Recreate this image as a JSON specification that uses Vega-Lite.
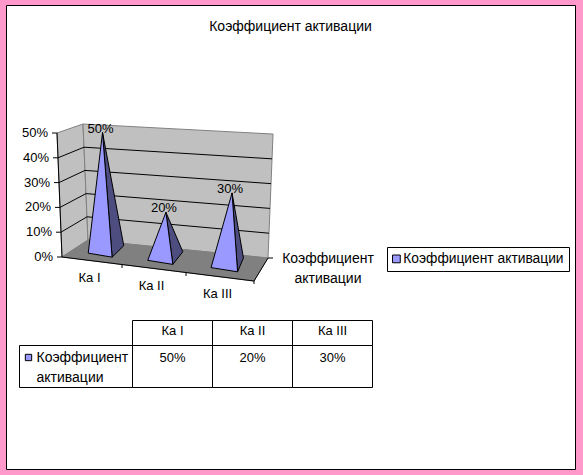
{
"$schema":"https://vega.github.io/schema/vega-lite/v6.json",
"width":569,"height":464,
"autosize":{"type":"none"},
"padding":{"left":6,"top":5,"right":8,"bottom":6},
"background":"#ff99cc",
"config":{"view":{"fill":"white","stroke":"black","strokeWidth":1},"text":{"font":"Liberation Sans","fontSize":13,"color":"black"}},
"title":{"text":"Коэффициент активации","font":"Liberation Sans","fontSize":14,"fontWeight":"normal","color":"black","anchor":"middle","baseline":"middle","offset":-36},
"datasets":{
"values":[{"category":"Ка I","col":0,"pos":0.49,"value":0.5,"series":"Коэффициент активации"},{"category":"Ка II","col":1,"pos":1.47,"value":0.2,"series":"Коэффициент активации"},{"category":"Ка III","col":2,"pos":2.47,"value":0.3,"series":"Коэффициент активации"}],
"levels":[{"level":0},{"level":0.1},{"level":0.2},{"level":0.3},{"level":0.4},{"level":0.5}],
"shell":[
{"part":"left","ord":0,"c":0,"d":0,"p":0},{"part":"left","ord":1,"c":0,"d":1,"p":0},{"part":"left","ord":2,"c":0,"d":1,"p":50},{"part":"left","ord":3,"c":0,"d":0,"p":50},{"part":"left","ord":4,"c":0,"d":0,"p":0},
{"part":"back","ord":0,"c":0,"d":1,"p":0},{"part":"back","ord":1,"c":3,"d":1,"p":0},{"part":"back","ord":2,"c":3,"d":1,"p":50},{"part":"back","ord":3,"c":0,"d":1,"p":50},{"part":"back","ord":4,"c":0,"d":1,"p":0},
{"part":"floor","ord":0,"c":0,"d":0,"p":0},{"part":"floor","ord":1,"c":3,"d":0,"p":0},{"part":"floor","ord":2,"c":3,"d":1,"p":0},{"part":"floor","ord":3,"c":0,"d":1,"p":0},{"part":"floor","ord":4,"c":0,"d":0,"p":0},
{"part":"axis1","ord":0,"c":0,"d":0,"p":50},{"part":"axis1","ord":1,"c":0,"d":0,"p":0},{"part":"axis1","ord":2,"c":3,"d":0,"p":0},{"part":"axis1","ord":3,"c":3,"d":1,"p":0}
],
"ticks":[
{"c":0,"d":0,"p":0,"tx":-5,"ty":0},{"c":0,"d":0,"p":10,"tx":-5,"ty":0},{"c":0,"d":0,"p":20,"tx":-5,"ty":0},{"c":0,"d":0,"p":30,"tx":-5,"ty":0},{"c":0,"d":0,"p":40,"tx":-5,"ty":0},{"c":0,"d":0,"p":50,"tx":-5,"ty":0},
{"c":1,"d":0,"p":0,"tx":0,"ty":3},{"c":2,"d":0,"p":0,"tx":0,"ty":3},{"c":3,"d":0,"p":0,"tx":0,"ty":3},{"c":3,"d":1,"p":0,"tx":5,"ty":0}
]
},
"resolve":{"scale":{"x":"independent","y":"independent","fill":"independent"}},
"layer":[
{"layer":[
{"data":{"name":"shell"},"transform":[{"filter":"datum.part==='left'||datum.part==='back'"},{"calculate":"62+58*datum.c+2*datum.c*datum.c+datum.d*(26+2*datum.c-2*datum.c*datum.c)+datum.p*(-0.1+0.067*datum.c)","as":"sx"},{"calculate":"257+8*datum.c-datum.d*(17+2*datum.c)-datum.p*(2.48-0.16*datum.d+0.053*datum.c)","as":"sy"}],
"mark":{"type":"line","fill":"#c0c0c0","stroke":"#808080","strokeWidth":1},
"encoding":{"x":{"field":"sx","type":"quantitative","axis":null,"scale":{"domain":[6,575],"nice":false,"zero":false}},"y":{"field":"sy","type":"quantitative","axis":null,"scale":{"domain":[469,5],"nice":false,"zero":false}},"order":{"field":"ord"},"detail":{"field":"part"}}},
{"data":{"name":"shell"},"transform":[{"filter":"datum.part==='floor'"},{"calculate":"62+58*datum.c+2*datum.c*datum.c+datum.d*(26+2*datum.c-2*datum.c*datum.c)+datum.p*(-0.1+0.067*datum.c)","as":"sx"},{"calculate":"257+8*datum.c-datum.d*(17+2*datum.c)-datum.p*(2.48-0.16*datum.d+0.053*datum.c)","as":"sy"}],
"mark":{"type":"line","fill":"#808080","stroke":"#808080","strokeWidth":1},
"encoding":{"x":{"field":"sx","type":"quantitative","axis":null},"y":{"field":"sy","type":"quantitative","axis":null},"order":{"field":"ord"}}},
{"data":{"name":"levels"},"transform":[{"filter":"datum.level>0&&datum.level<0.5"},{"calculate":"[0,0,3]","as":"c"},{"calculate":"[0,1,1]","as":"d"},{"calculate":"[0,1,2]","as":"ord"},{"flatten":["c","d","ord"]},{"calculate":"datum.level*100","as":"p"},{"calculate":"62+58*datum.c+2*datum.c*datum.c+datum.d*(26+2*datum.c-2*datum.c*datum.c)+datum.p*(-0.1+0.067*datum.c)","as":"sx"},{"calculate":"257+8*datum.c-datum.d*(17+2*datum.c)-datum.p*(2.48-0.16*datum.d+0.053*datum.c)","as":"sy"}],
"mark":{"type":"line","stroke":"black","strokeWidth":1},
"encoding":{"x":{"field":"sx","type":"quantitative","axis":null},"y":{"field":"sy","type":"quantitative","axis":null},"order":{"field":"ord"},"detail":{"field":"level"}}},
{"data":{"name":"shell"},"transform":[{"filter":"datum.part==='axis1'"},{"calculate":"62+58*datum.c+2*datum.c*datum.c+datum.d*(26+2*datum.c-2*datum.c*datum.c)+datum.p*(-0.1+0.067*datum.c)","as":"sx"},{"calculate":"257+8*datum.c-datum.d*(17+2*datum.c)-datum.p*(2.48-0.16*datum.d+0.053*datum.c)","as":"sy"}],
"mark":{"type":"line","stroke":"black","strokeWidth":1},
"encoding":{"x":{"field":"sx","type":"quantitative","axis":null},"y":{"field":"sy","type":"quantitative","axis":null},"order":{"field":"ord"}}},
{"data":{"name":"ticks"},"transform":[{"calculate":"62+58*datum.c+2*datum.c*datum.c+datum.d*(26+2*datum.c-2*datum.c*datum.c)+datum.p*(-0.1+0.067*datum.c)","as":"sx"},{"calculate":"257+8*datum.c-datum.d*(17+2*datum.c)-datum.p*(2.48-0.16*datum.d+0.053*datum.c)","as":"sy"},{"calculate":"datum.sx+datum.tx","as":"sx2"},{"calculate":"datum.sy+datum.ty","as":"sy2"}],
"mark":{"type":"rule","stroke":"black","strokeWidth":1},
"encoding":{"x":{"field":"sx","type":"quantitative","axis":null},"y":{"field":"sy","type":"quantitative","axis":null},"x2":{"field":"sx2"},"y2":{"field":"sy2"}}},
{"data":{"name":"values"},"transform":[{"calculate":"[0.22,0.09,0.15,0.22]","as":"du"},{"calculate":"[0.3,0.35,0.9,0.3]","as":"dd"},{"calculate":"[0,1,0,0]","as":"k"},{"calculate":"[0,1,2,3]","as":"ord"},{"flatten":["du","dd","k","ord"]},{"calculate":"datum.pos+datum.du","as":"c"},{"calculate":"datum.dd","as":"d"},{"calculate":"datum.value*100*datum.k","as":"p"},{"calculate":"62+58*datum.c+2*datum.c*datum.c+datum.d*(26+2*datum.c-2*datum.c*datum.c)+datum.p*(-0.1+0.067*datum.c)","as":"sx"},{"calculate":"257+8*datum.c-datum.d*(17+2*datum.c)-datum.p*(2.48-0.16*datum.d+0.053*datum.c)","as":"sy"}],
"mark":{"type":"line","fill":"#4d4d80","stroke":"black","strokeWidth":1},
"encoding":{"x":{"field":"sx","type":"quantitative","axis":null},"y":{"field":"sy","type":"quantitative","axis":null},"order":{"field":"ord"},"detail":{"field":"category"}}},
{"data":{"name":"values"},"transform":[{"calculate":"[-0.2,0.09,0.22,-0.2]","as":"du"},{"calculate":"[0.35,0.35,0.3,0.35]","as":"dd"},{"calculate":"[0,1,0,0]","as":"k"},{"calculate":"[0,1,2,3]","as":"ord"},{"flatten":["du","dd","k","ord"]},{"calculate":"datum.pos+datum.du","as":"c"},{"calculate":"datum.dd","as":"d"},{"calculate":"datum.value*100*datum.k","as":"p"},{"calculate":"62+58*datum.c+2*datum.c*datum.c+datum.d*(26+2*datum.c-2*datum.c*datum.c)+datum.p*(-0.1+0.067*datum.c)","as":"sx"},{"calculate":"257+8*datum.c-datum.d*(17+2*datum.c)-datum.p*(2.48-0.16*datum.d+0.053*datum.c)","as":"sy"}],
"mark":{"type":"line","stroke":"black","strokeWidth":1},
"encoding":{"x":{"field":"sx","type":"quantitative","axis":null},"y":{"field":"sy","type":"quantitative","axis":null},"order":{"field":"ord"},"detail":{"field":"category"},
"fill":{"field":"series","type":"nominal","scale":{"range":["#9999ff"]},"legend":{"orient":"none","legendX":381,"legendY":242,"title":null,"strokeColor":"black","fillColor":"white","padding":5,"labelFont":"Liberation Sans","labelFontSize":13.8,"labelColor":"black","labelLimit":300,"symbolType":"square","symbolSize":60,"symbolStrokeColor":"black","symbolStrokeWidth":1,"symbolOffset":-2.5,"labelOffset":0}}}},
{"data":{"name":"values"},"transform":[{"calculate":"datum.pos+0.09","as":"c"},{"calculate":"0.35","as":"d"},{"calculate":"datum.value*100","as":"p"},{"calculate":"62+58*datum.c+2*datum.c*datum.c+datum.d*(26+2*datum.c-2*datum.c*datum.c)+datum.p*(-0.1+0.067*datum.c)","as":"sx"},{"calculate":"257+8*datum.c-datum.d*(17+2*datum.c)-datum.p*(2.48-0.16*datum.d+0.053*datum.c)","as":"sy"}],
"mark":{"type":"text","dx":-2,"dy":-4,"align":"center","baseline":"middle"},
"encoding":{"x":{"field":"sx","type":"quantitative","axis":null},"y":{"field":"sy","type":"quantitative","axis":null},"text":{"field":"value","type":"quantitative","format":".0%"}}},
{"data":{"name":"levels"},"transform":[{"calculate":"datum.level*100","as":"p"},{"calculate":"62+datum.p*(-0.1)","as":"sx"},{"calculate":"257-datum.p*2.48","as":"sy"}],
"mark":{"type":"text","dx":-9,"align":"right","baseline":"middle"},
"encoding":{"x":{"field":"sx","type":"quantitative","axis":null},"y":{"field":"sy","type":"quantitative","axis":null},"text":{"field":"level","type":"quantitative","format":".0%"}}},
{"data":{"name":"values"},"transform":[{"calculate":"floor(datum.pos)+0.5","as":"c"},{"calculate":"62+58*datum.c+2*datum.c*datum.c","as":"sx"},{"calculate":"257+8*datum.c","as":"sy"}],
"mark":{"type":"text","dx":-2,"dy":17,"align":"center","baseline":"middle"},
"encoding":{"x":{"field":"sx","type":"quantitative","axis":null},"y":{"field":"sy","type":"quantitative","axis":null},"text":{"field":"category"}}},
{"data":{"values":[{"series":"Коэффициент активации","c":3,"d":0.5}]},"transform":[{"calculate":"62+58*datum.c+2*datum.c*datum.c+datum.d*(26+2*datum.c-2*datum.c*datum.c)","as":"sx"},{"calculate":"257+8*datum.c-datum.d*(17+2*datum.c)","as":"sy"}],
"mark":{"type":"text","dx":67,"dy":-11,"align":"center","baseline":"middle","fontSize":14,"lineBreak":" ","lineHeight":20},
"encoding":{"x":{"field":"sx","type":"quantitative","axis":null},"y":{"field":"sy","type":"quantitative","axis":null},"text":{"field":"series"}}}
]},
{"layer":[
{"data":{"name":"values"},"transform":[{"calculate":"datum.col+1","as":"col2"}],
"mark":{"type":"rect","filled":false,"stroke":"black","strokeWidth":1},
"encoding":{"x":{"field":"col","type":"quantitative","axis":null,"scale":{"domain":[-1.58125,5.53125],"nice":false,"zero":false}},"x2":{"field":"col2"},"y":{"datum":0,"type":"quantitative","axis":null,"scale":{"domain":[5.94,-12.62],"nice":false,"zero":false}},"y2":{"datum":1}}},
{"data":{"name":"values"},"transform":[{"calculate":"datum.col+1","as":"col2"}],
"mark":{"type":"rect","filled":false,"stroke":"black","strokeWidth":1},
"encoding":{"x":{"field":"col","type":"quantitative","axis":null},"x2":{"field":"col2"},"y":{"datum":1,"type":"quantitative","axis":null},"y2":{"datum":2.68}}},
{"data":{"values":[{"series":"Коэффициент активации"}]},
"mark":{"type":"rect","filled":false,"stroke":"black","strokeWidth":1},
"encoding":{"x":{"datum":-1.4125,"type":"quantitative","axis":null},"x2":{"datum":0},"y":{"datum":1,"type":"quantitative","axis":null},"y2":{"datum":2.68}}},
{"data":{"name":"values"},"transform":[{"calculate":"datum.col+0.5","as":"mid"}],
"mark":{"type":"text","align":"center","baseline":"middle"},
"encoding":{"x":{"field":"mid","type":"quantitative","axis":null},"y":{"datum":0.42,"type":"quantitative","axis":null},"text":{"field":"category"}}},
{"data":{"name":"values"},"transform":[{"calculate":"datum.col+0.5","as":"mid"}],
"mark":{"type":"text","align":"center","baseline":"middle"},
"encoding":{"x":{"field":"mid","type":"quantitative","axis":null},"y":{"datum":1.48,"type":"quantitative","axis":null},"text":{"field":"value","type":"quantitative","format":".0%"}}},
{"data":{"values":[{"series":"Коэффициент активации"}]},
"mark":{"type":"text","align":"left","baseline":"middle","fontSize":14,"lineBreak":" ","lineHeight":20},
"encoding":{"x":{"datum":-1.2,"type":"quantitative","axis":null},"y":{"datum":1.48,"type":"quantitative","axis":null},"text":{"field":"series"}}},
{"data":{"values":[{"series":"Коэффициент активации"}]},
"mark":{"type":"point","shape":"square","filled":true,"fill":"#9999ff","stroke":"black","strokeWidth":1,"opacity":1,"size":40},
"encoding":{"x":{"datum":-1.3,"type":"quantitative","axis":null},"y":{"datum":1.48,"type":"quantitative","axis":null}}}
]}
]
}
